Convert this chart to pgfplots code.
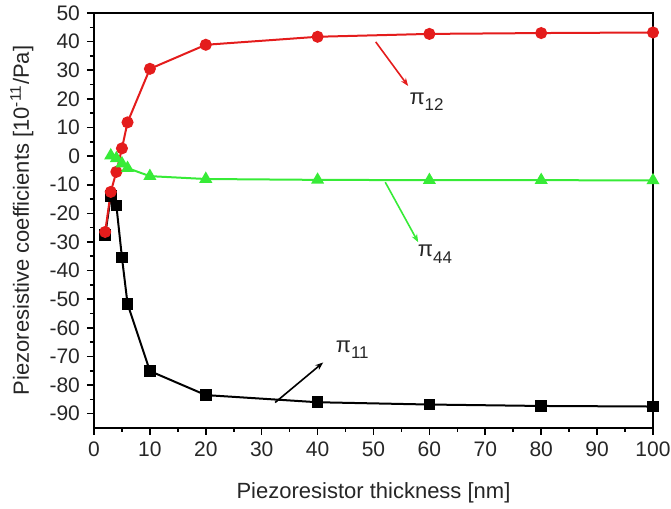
\documentclass[border=0pt]{standalone}
\usepackage{pgfplots}
\pgfplotsset{compat=1.18}
\usepackage{fontspec}
\setmainfont{Liberation Sans}
\usetikzlibrary{arrows.meta}
\definecolor{pired}{RGB}{228,28,28}
\definecolor{pigreen}{RGB}{55,235,55}
\newcommand{\pisub}[1]{π\raisebox{-0.55ex}{\fontsize{8.5}{10}\selectfont #1}}
\begin{document}
\begin{tikzpicture}
\useasboundingbox (-47pt,-40.5pt) rectangle (288.5pt,214pt);
\begin{axis}[
  anchor=south west, at={(0pt,0pt)},
  scale only axis, width=279.5pt, height=207.5pt,
  xmin=0, xmax=100, ymin=-95, ymax=50,
  xtick={0,10,...,100}, ytick={-90,-80,...,50},
  minor x tick num=1, minor y tick num=1,
  tick align=outside, xtick pos=bottom, ytick pos=left,
  major tick length=3.5pt, minor tick length=2pt,
  axis line style={line width=1pt},
  every tick/.style={black, line width=0.8pt},
  /pgf/number format/assume math mode=true,
  tick label style={font=\fontsize{10.5}{12}\selectfont, text=black!85},
  label style={font=\fontsize{11}{13}\selectfont, text=black!85},
  xlabel={Piezoresistor thickness [nm]},
  ylabel={Piezoresistive coefficients [10\textsuperscript{-11}/Pa]},
  xlabel style={at={(axis description cs:0.5,-0.1566)}, anchor=center},
  ylabel style={at={(axis description cs:-0.129,0.5)}, anchor=center},
  clip=false,
]
\addplot[black, line width=1pt, mark=square*, mark size=2.4pt] coordinates {
 (2,-27.6) (3,-14) (4,-17.2) (5,-35.4) (6,-51.6) (10,-75.1) (20,-83.5) (40,-86) (60,-86.8) (80,-87.3) (100,-87.5)};
\addplot[pired, line width=1pt, mark=*, mark size=2.5pt] coordinates {
 (2,-26.5) (3,-12.5) (4,-5.5) (5,2.7) (6,11.8) (10,30.5) (20,38.9) (40,41.7) (60,42.7) (80,43) (100,43.2)};
\addplot[pigreen, line width=1pt, mark=triangle*, mark size=2.8pt] coordinates {
 (3,0.2) (4,-0.8) (5,-2.6) (6,-4.2) (10,-7) (20,-8) (40,-8.3) (60,-8.4) (80,-8.4) (100,-8.5)};
\draw[pired, line width=0.8pt, -{Stealth[length=4pt,width=3pt]}] (axis cs:50.4,39.9) -- (axis cs:56.2,24.5);
\draw[pigreen, line width=0.8pt, -{Stealth[length=4pt,width=3pt]}] (axis cs:52.1,-9.1) -- (axis cs:58.0,-30.1);
\draw[black, line width=0.8pt, -{Stealth[length=4pt,width=3pt]}] (axis cs:32.4,-86.1) -- (axis cs:41.0,-72.1);
\node[font=\fontsize{11}{13}\selectfont, text=black!85] at (axis cs:59.5,19.0) {\pisub{12}};
\node[font=\fontsize{11}{13}\selectfont, text=black!85] at (axis cs:61.0,-34.3) {\pisub{44}};
\node[font=\fontsize{11}{13}\selectfont, text=black!85] at (axis cs:46.2,-67.6) {\pisub{11}};
\end{axis}
\end{tikzpicture}
\end{document}
